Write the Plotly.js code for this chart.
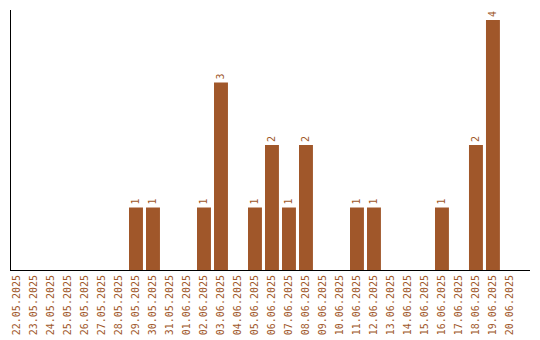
<!DOCTYPE html>
<html>
<head>
<meta charset="utf-8">
<script src="https://cdn.plot.ly/plotly-3.0.1.min.js"></script>
<style>
  html, body { margin: 0; padding: 0; background: #fff; }
  #chart { width: 540px; height: 340px; }
</style>
</head>
<body>
<div id="chart"></div>
<script>
// Daily counts, 22.05.2025 – 20.06.2025
const days = [
  "22.05.2025", "23.05.2025", "24.05.2025", "25.05.2025", "26.05.2025",
  "27.05.2025", "28.05.2025", "29.05.2025", "30.05.2025", "31.05.2025",
  "01.06.2025", "02.06.2025", "03.06.2025", "04.06.2025", "05.06.2025",
  "06.06.2025", "07.06.2025", "08.06.2025", "09.06.2025", "10.06.2025",
  "11.06.2025", "12.06.2025", "13.06.2025", "14.06.2025", "15.06.2025",
  "16.06.2025", "17.06.2025", "18.06.2025", "19.06.2025", "20.06.2025"
];
const counts = [
  0, 0, 0, 0, 0,
  0, 0, 1, 1, 0,
  0, 1, 3, 0, 1,
  2, 1, 2, 0, 0,
  1, 1, 0, 0, 0,
  1, 0, 2, 4, 0
];

const barColor = "#a0572a";
const font = { family: "DejaVu Sans Mono, monospace", size: 10, color: barColor };

const trace = {
  type: "bar",
  x: days.map((_, i) => i),
  y: counts,
  text: counts.map(v => v > 0 ? String(v) : ""),
  textposition: "outside",
  textangle: -90,
  cliponaxis: false,
  textfont: font,
  marker: { color: barColor, line: { width: 0 } },
  hoverinfo: "none"
};

const layout = {
  width: 540,
  height: 340,
  margin: { l: 11, r: 10, t: 10, b: 70, pad: 0 },
  paper_bgcolor: "#fff",
  plot_bgcolor: "#fff",
  bargap: 0.18,
  showlegend: false,
  font: font,
  xaxis: {
    type: "linear",
    range: [-0.353, 30.18],
    tickmode: "array",
    tickvals: days.map((_, i) => i),
    ticktext: days,
    tickangle: -90,
    ticks: "",
    showgrid: false,
    zeroline: false,
    showline: true,
    linecolor: "#000",
    linewidth: 1,
    tickfont: font,
    fixedrange: true
  },
  yaxis: {
    range: [0, 4.16],
    showgrid: false,
    zeroline: false,
    showline: true,
    linecolor: "#000",
    linewidth: 1,
    showticklabels: false,
    ticks: "",
    fixedrange: true
  }
};

Plotly.newPlot("chart", [trace], layout, { displayModeBar: false, staticPlot: true });
</script>
</body>
</html>
